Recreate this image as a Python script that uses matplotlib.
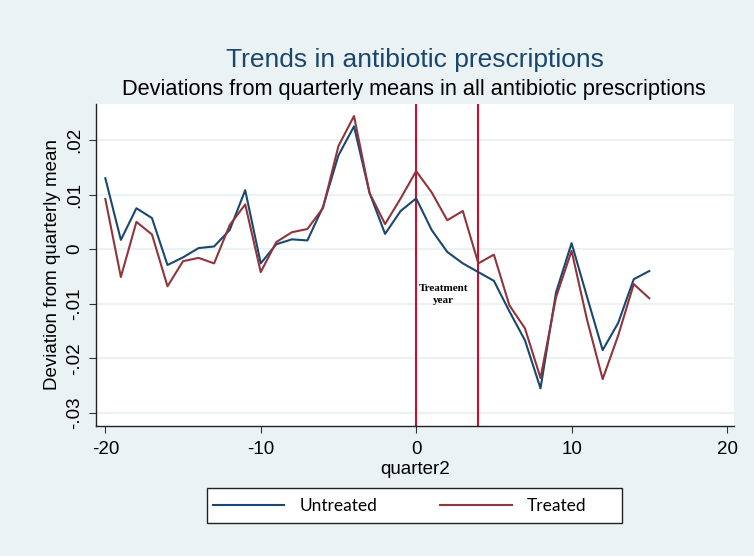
import matplotlib
matplotlib.use("Agg")
import matplotlib.pyplot as plt
from matplotlib.lines import Line2D
from matplotlib.patches import Rectangle

quarters = list(range(-20, 16))
untreated = [0.0130, 0.0017, 0.0075, 0.0057, -0.0029, -0.0015, 0.0002, 0.0005,
             0.0035, 0.0108, -0.0026, 0.0009, 0.0018, 0.0016, 0.0077, 0.0172,
             0.0225, 0.0103, 0.0028, 0.0070, 0.0093, 0.0035, -0.0005, -0.0026,
             -0.0042, -0.0058, -0.0114, -0.0167, -0.0255, -0.0079, 0.0011,
             -0.0088, -0.0185, -0.0135, -0.0055, -0.0040]
treated = [0.0092, -0.0051, 0.0050, 0.0027, -0.0068, -0.0022, -0.0016, -0.0026,
           0.0044, 0.0082, -0.0042, 0.0013, 0.0031, 0.0037, 0.0075, 0.0189,
           0.0244, 0.0103, 0.0046, 0.0093, 0.0143, 0.0104, 0.0053, 0.0070,
           -0.0026, -0.0010, -0.0103, -0.0145, -0.0236, -0.0088, -0.0003,
           -0.0130, -0.0238, -0.0158, -0.0064, -0.0090]
treatment_lines = [0, 4]
xticks = [-20, -10, 0, 10, 20]
yticks = [-0.03, -0.02, -0.01, 0, 0.01, 0.02]
ytick_labels = ["-.03", "-.02", "-.01", "0", ".01", ".02"]

BG = "#EAF2F3"
BLUE = "#1A476F"
RED = "#90353B"
VLINE = "#C8102E"

plt.rcParams['font.family'] = ['Liberation Sans', 'DejaVu Sans']

fig = plt.figure(figsize=(7.54, 5.56), dpi=100, facecolor=BG)
ax = fig.add_axes([96/754, 1-426/556, (734-96)/754, (426-104)/556])
ax.set_facecolor("white")

for y in yticks:
    ax.axhline(y, color=BG, lw=1.5, zorder=1)

for x in treatment_lines:
    ax.axvline(x, color=VLINE, lw=1.5, zorder=2)

ax.plot(quarters, untreated, color=BLUE, lw=1.5, zorder=3)
ax.plot(quarters, treated, color=RED, lw=1.5, zorder=3)

ax.set_xlim(-20.6, 20.45)
ax.set_ylim(-0.0324, 0.0266)
ax.set_xticks(xticks)
ax.set_xticklabels([str(v) for v in xticks], fontsize=13.5)
ax.set_yticks(yticks)
ax.set_yticklabels(ytick_labels, fontsize=13.5, rotation=90, va="center")
ax.tick_params(direction="out", length=5, width=0.8, color="#333333")
ax.tick_params(axis="x", pad=5.5)
ax.tick_params(axis="y", pad=4)
for s in ["top", "right"]:
    ax.spines[s].set_visible(False)
for s in ["left", "bottom"]:
    ax.spines[s].set_color("#222222")
    ax.spines[s].set_linewidth(1.0)

ax.set_xlabel("quarter2", fontsize=13.5, labelpad=2.5)
ax.set_ylabel("Deviation from quarterly mean", fontsize=13.5, labelpad=4)

ax.text(1.75, -0.0083, "Treatment\nyear", family=["Liberation Serif", "DejaVu Serif"],
        fontweight="bold", fontsize=8, ha="center", va="center", linespacing=1.35,
        zorder=4)

fig.text(415/754, 1-60/556, "Trends in antibiotic prescriptions", color=BLUE,
         fontsize=19, ha="center", va="center")
fig.text(414/754, 1-90/556,
         "Deviations from quarterly means in all antibiotic prescriptions",
         color="black", fontsize=15.7, ha="center", va="center")

box = Rectangle((207/754, 1-523/556), (622-207)/754, (523-488)/556,
                transform=fig.transFigure, facecolor="white", edgecolor="#222222",
                lw=1.0, zorder=1)
fig.patches.append(box)

handles = [Line2D([], [], color=BLUE, lw=1.5), Line2D([], [], color=RED, lw=1.5)]
leg = fig.legend(handles, ["Untreated", "Treated"], ncol=2,
                 loc="center", bbox_to_anchor=(400/754, 1-506/556),
                 frameon=False,
                 prop={"family": ["Lato", "DejaVu Sans"], "size": 12.5},
                 handlelength=4.1, columnspacing=3.6, handletextpad=0.9,
                 borderpad=0.2)
leg.set_zorder(2)

fig.savefig("out.png", dpi=100, facecolor=BG)
